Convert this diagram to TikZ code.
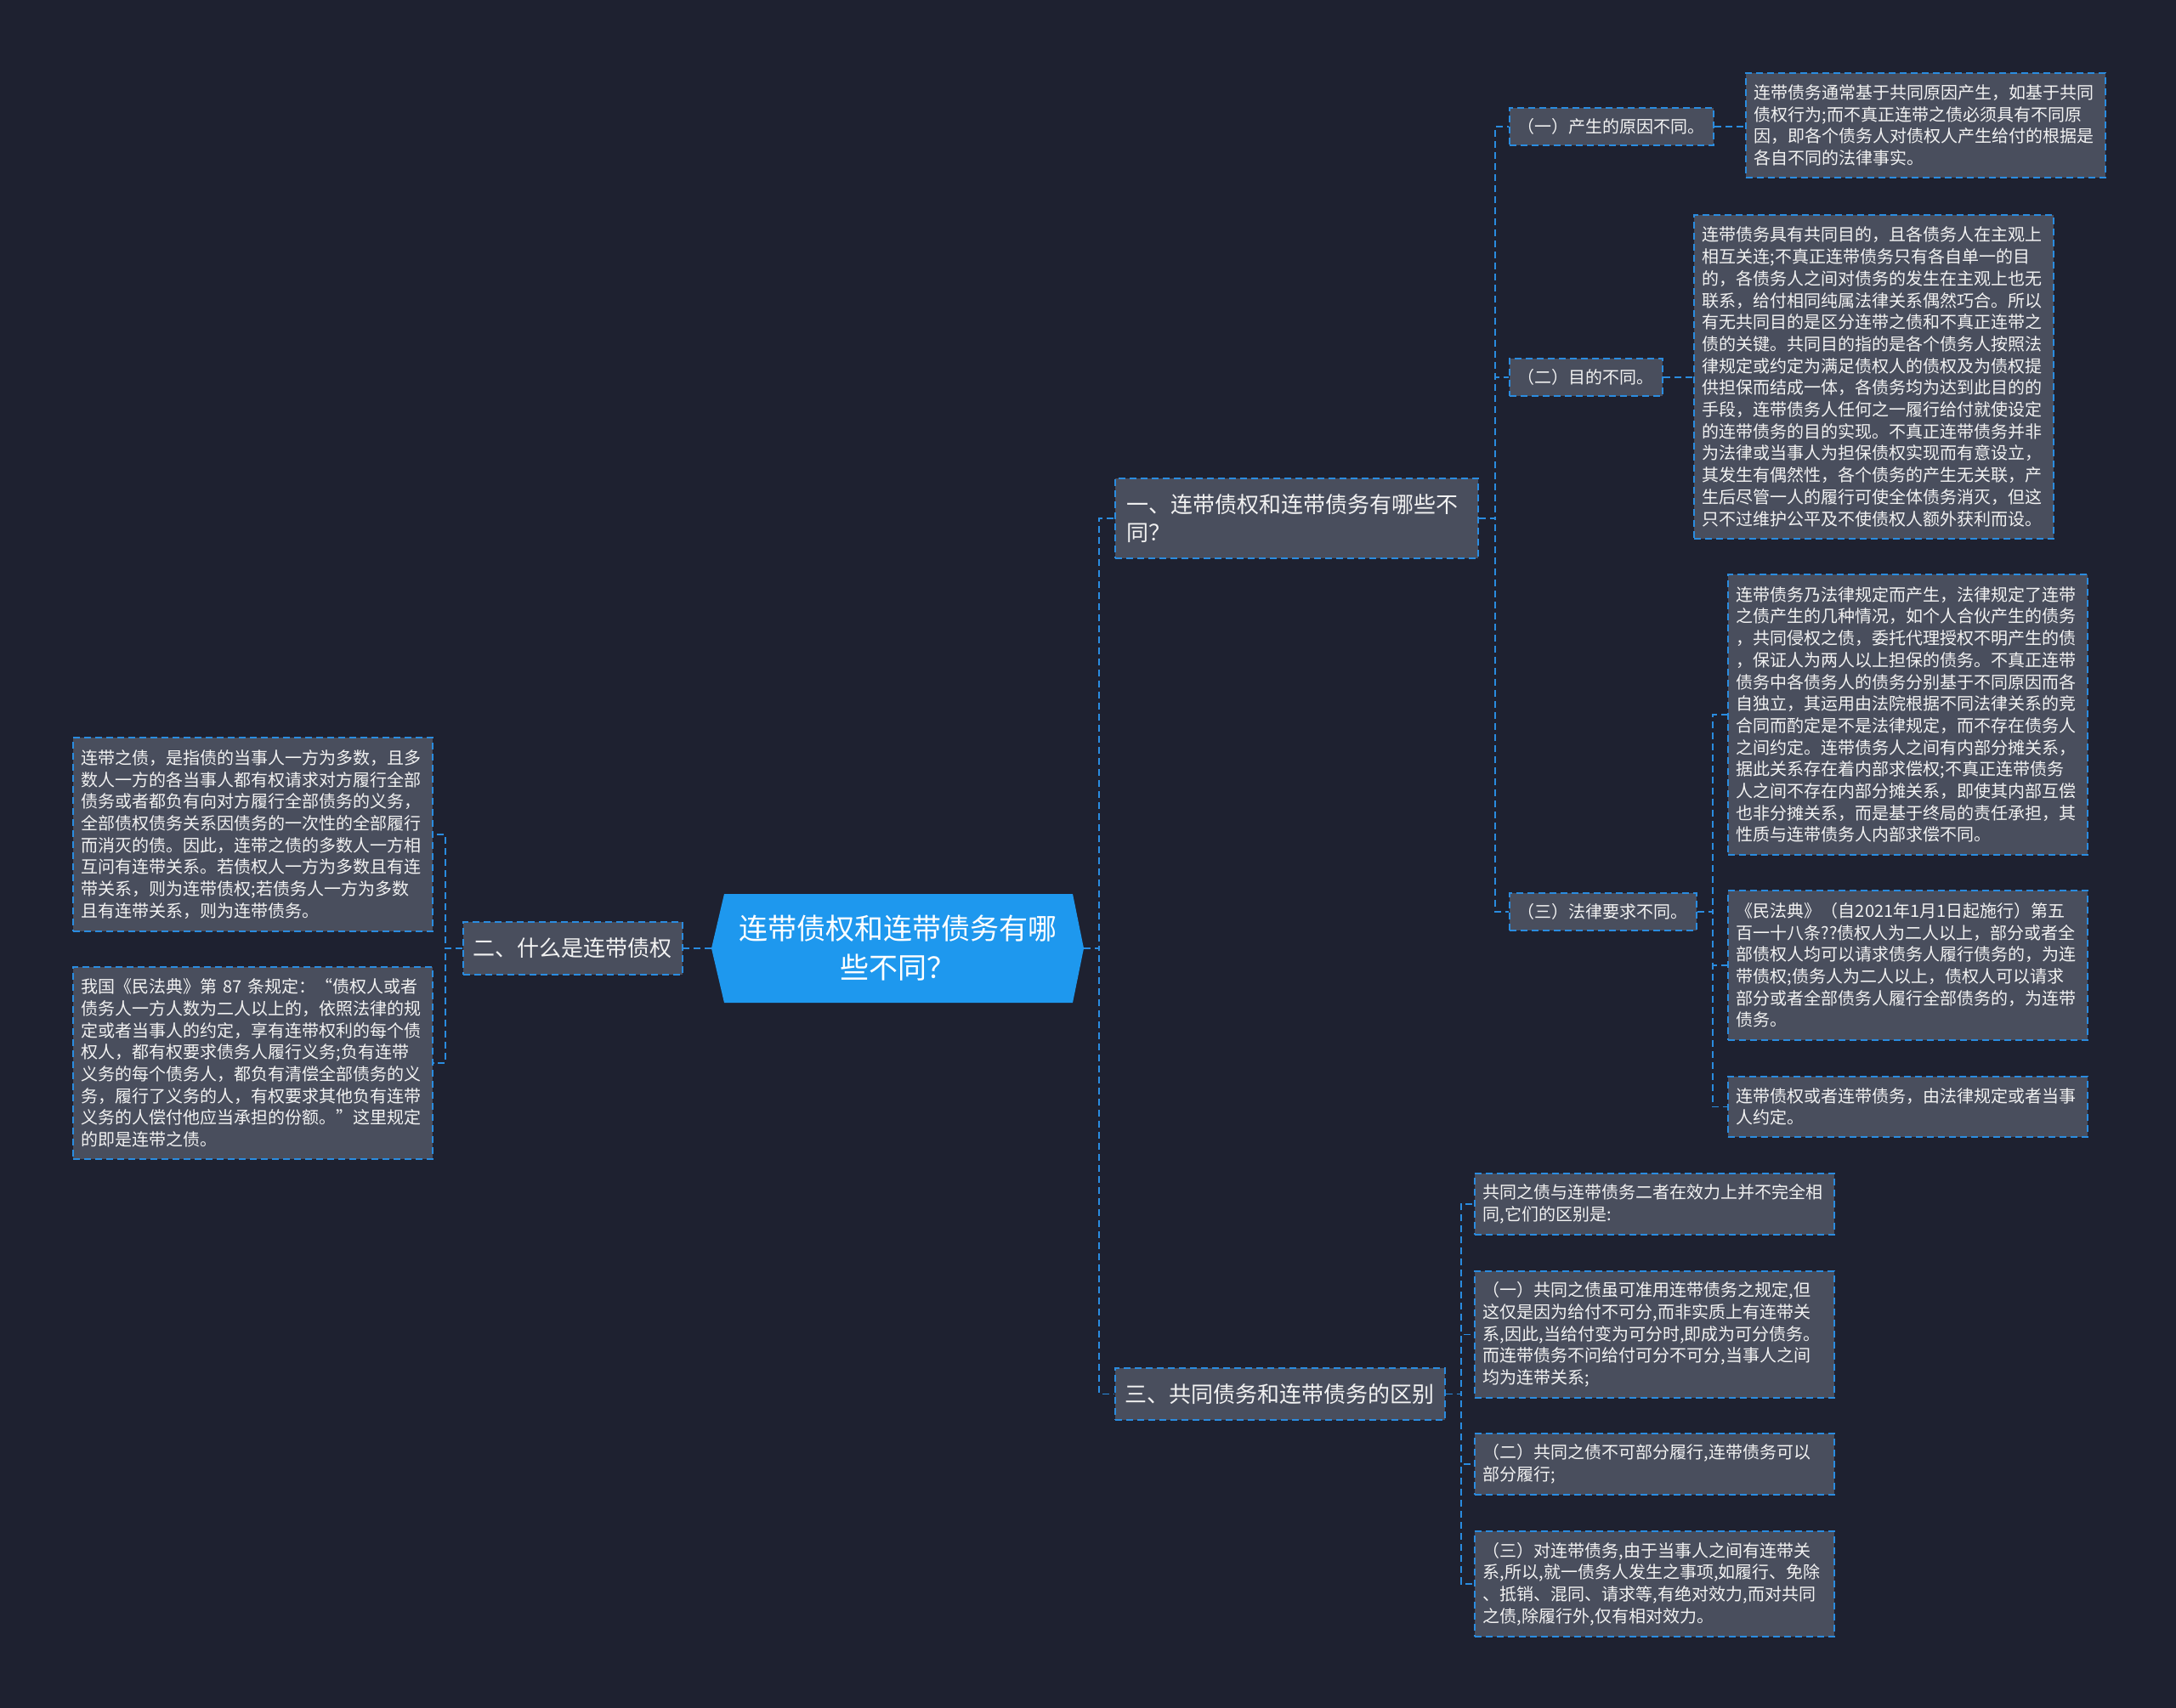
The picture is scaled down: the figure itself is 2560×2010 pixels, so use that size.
\documentclass[tikz,border=0pt]{standalone}
\usepackage{fontspec}
\setmainfont{Noto Sans CJK SC}
\definecolor{bgcol}{HTML}{1E2130}
\definecolor{nfill}{HTML}{494E5D}
\definecolor{bline}{HTML}{2A8CE0}
\definecolor{cfill}{HTML}{1E98EE}
\definecolor{tcol}{HTML}{F2F2F2}
\tikzset{
  basebox/.style={draw=bline, fill=nfill, dash pattern=on 8pt off 5pt, line width=1.8pt,
    text=tcol, anchor=north west, align=left, inner xsep=10pt, inner ysep=0pt},
  leafbox/.style={basebox, font=\fontsize{20}{25.7}\selectfont, text width=403pt},
  lvltwo/.style={basebox, font=\fontsize{20}{25}\selectfont, minimum height=44pt},
  lvlone/.style={basebox, font=\fontsize{26}{33}\selectfont, inner xsep=12pt},
  conn/.style={draw=bline, dash pattern=on 8pt off 5pt, line width=1.8pt},
}
\begin{document}
\begin{tikzpicture}[x=1pt,y=-1pt]
\fill[bgcol] (0,0) rectangle (2560,2010);
\useasboundingbox (0,0) rectangle (2560,2010);

% central node
\fill[cfill] (837,1116) -- (852,1052) -- (1262,1052) -- (1275,1116) -- (1262,1180) -- (852,1180) -- cycle;
\node[text=white, font=\fontsize{34}{46}\selectfont, align=center, minimum width=438pt, minimum height=128pt, inner sep=0pt] (c) at (1056,1116) {连带债权和连带债务有哪\\些不同？};

% level one
\node[lvlone, inner xsep=14pt, text width=399pt, minimum height=94pt] (one) at (1311,562) {一、连带债权和连带债务有哪些不\\同？};
\node[lvlone, minimum height=62pt] (two) at (544,1084) {二、什么是连带债权};
\node[lvlone, minimum height=61pt] (three) at (1311,1609) {三、共同债务和连带债务的区别};

% level two
\node[lvltwo] (n1) at (1775,126) {（一）产生的原因不同。};
\node[lvltwo] (n2) at (1775,421) {（二）目的不同。};
\node[lvltwo] (n3) at (1775,1050) {（三）法律要求不同。};

% leaves
\node[leafbox, minimum height=123pt] (a1) at (2053,85) {连带债务通常基于共同原因产生，如基于共同\\
债权行为;而不真正连带之债必须具有不同原\\
因，即各个债务人对债权人产生给付的根据是\\
各自不同的法律事实。};

\node[leafbox, minimum height=381pt] (a2) at (1992,252) {连带债务具有共同目的，且各债务人在主观上\\
相互关连;不真正连带债务只有各自单一的目\\
的，各债务人之间对债务的发生在主观上也无\\
联系，给付相同纯属法律关系偶然巧合。所以\\
有无共同目的是区分连带之债和不真正连带之\\
债的关键。共同目的指的是各个债务人按照法\\
律规定或约定为满足债权人的债权及为债权提\\
供担保而结成一体，各债务均为达到此目的的\\
手段，连带债务人任何之一履行给付就使设定\\
的连带债务的目的实现。不真正连带债务并非\\
为法律或当事人为担保债权实现而有意设立，\\
其发生有偶然性，各个债务的产生无关联，产\\
生后尽管一人的履行可使全体债务消灭，但这\\
只不过维护公平及不使债权人额外获利而设。};

\node[leafbox, minimum height=330pt] (a3) at (2032,675) {连带债务乃法律规定而产生，法律规定了连带\\
之债产生的几种情况，如个人合伙产生的债务\\
，共同侵权之债，委托代理授权不明产生的债\\
，保证人为两人以上担保的债务。不真正连带\\
债务中各债务人的债务分别基于不同原因而各\\
自独立，其运用由法院根据不同法律关系的竞\\
合同而酌定是不是法律规定，而不存在债务人\\
之间约定。连带债务人之间有内部分摊关系，\\
据此关系存在着内部求偿权;不真正连带债务\\
人之间不存在内部分摊关系，即使其内部互偿\\
也非分摊关系，而是基于终局的责任承担，其\\
性质与连带债务人内部求偿不同。};

\node[leafbox, minimum height=176pt] (a4) at (2032,1047) {《民法典》（自2021年1月1日起施行）第五\\
百一十八条??债权人为二人以上，部分或者全\\
部债权人均可以请求债务人履行债务的，为连\\
带债权;债务人为二人以上，债权人可以请求\\
部分或者全部债务人履行全部债务的，为连带\\
债务。};

\node[leafbox, minimum height=71pt] (a5) at (2032,1266) {连带债权或者连带债务，由法律规定或者当事\\
人约定。};

\node[leafbox, minimum height=228pt] (l1) at (85,867) {连带之债，是指债的当事人一方为多数，且多\\
数人一方的各当事人都有权请求对方履行全部\\
债务或者都负有向对方履行全部债务的义务，\\
全部债权债务关系因债务的一次性的全部履行\\
而消灭的债。因此，连带之债的多数人一方相\\
互问有连带关系。若债权人一方为多数且有连\\
带关系，则为连带债权;若债务人一方为多数\\
且有连带关系，则为连带债务。};

\node[leafbox, minimum height=226pt] (l2) at (85,1137) {我国《民法典》第~87~条规定：“债权人或者\\
债务人一方人数为二人以上的，依照法律的规\\
定或者当事人的约定，享有连带权利的每个债\\
权人，都有权要求债务人履行义务;负有连带\\
义务的每个债务人，都负有清偿全部债务的义\\
务，履行了义务的人，有权要求其他负有连带\\
义务的人偿付他应当承担的份额。”这里规定\\
的即是连带之债。};

\node[leafbox, minimum height=72pt] (b1) at (1734,1380) {共同之债与连带债务二者在效力上并不完全相\\
同,它们的区别是:};

\node[leafbox, minimum height=149pt] (b2) at (1734,1495) {（一）共同之债虽可准用连带债务之规定,但\\
这仅是因为给付不可分,而非实质上有连带关\\
系,因此,当给付变为可分时,即成为可分债务。\\
而连带债务不问给付可分不可分,当事人之间\\
均为连带关系;};

\node[leafbox, minimum height=72pt] (b3) at (1734,1686) {（二）共同之债不可部分履行,连带债务可以\\
部分履行;};

\node[leafbox, minimum height=124pt] (b4) at (1734,1801) {（三）对连带债务,由于当事人之间有连带关\\
系,所以,就一债务人发生之事项,如履行、免除\\
、抵销、混同、请求等,有绝对效力,而对共同\\
之债,除履行外,仅有相对效力。};

% connectors
\draw[conn] (c.east) -- ++(18,0) |- (one.west);
\draw[conn] (c.east) -- ++(18,0) |- (three.west);
\draw[conn] (c.west) -- (c.west -| two.east);

\draw[conn] (one.east) -- ++(19,0) |- (n1.west);
\draw[conn] (one.east) -- ++(19,0) |- (n2.west);
\draw[conn] (one.east) -- ++(19,0) |- (n3.west);

\draw[conn] (n1.east) -- (n1.east -| a1.west);
\draw[conn] (n2.east) -- (n2.east -| a2.west);
\draw[conn] (n3.east) -- ++(18,0) |- (a3.west);
\draw[conn] (n3.east) -- ++(18,0) |- (a4.west);
\draw[conn] (n3.east) -- ++(18,0) |- (a5.west);

\draw[conn] (two.west) -- ++(-20,0) |- (l1.east);
\draw[conn] (two.west) -- ++(-20,0) |- (l2.east);

\draw[conn] (three.east) -- ++(18,0) |- (b1.west);
\draw[conn] (three.east) -- ++(18,0) |- (b2.west);
\draw[conn] (three.east) -- ++(18,0) |- (b3.west);
\draw[conn] (three.east) -- ++(18,0) |- (b4.west);
\end{tikzpicture}
\end{document}
